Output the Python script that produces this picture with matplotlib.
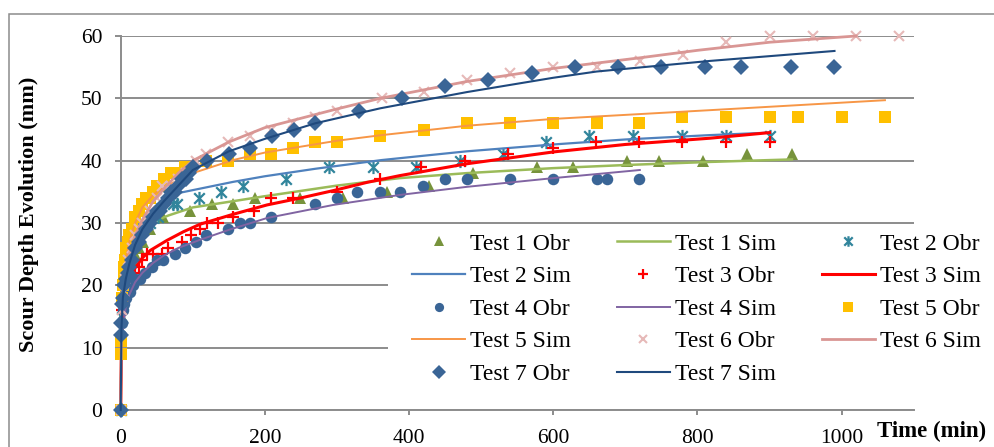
import matplotlib
matplotlib.use("Agg")
import matplotlib.pyplot as plt
from matplotlib.path import Path
from matplotlib.patches import Rectangle

plt.rcParams['font.family'] = ['Liberation Serif', 'DejaVu Serif']

# ---------------- data ----------------
t1_obs = [0, 2, 4, 6, 8, 10, 15, 20, 25, 31, 41, 59, 96, 126, 156, 186, 248, 308, 369, 428, 488, 577, 627, 702, 747, 807, 868, 931]
d1_obs = [0, 15, 18, 20, 21, 22, 24, 25, 26, 27, 29, 31, 32, 33, 33, 34, 34, 34, 35, 36, 38, 39, 39, 40, 40, 40, 41, 41]
t1_sim = [0, 1, 3, 7, 12, 20, 30, 45, 66, 100, 156, 200, 300, 387, 480, 600, 700, 817, 931]
d1_sim = [0, 11, 15, 20, 23, 26, 28.6, 30.2, 31.2, 32.5, 33.5, 34.3, 36.0, 37.2, 38.0, 38.8, 39.3, 39.8, 40.2]

t2_obs = [0, 2, 5, 10, 15, 20, 30, 40, 52, 72, 78, 109, 139, 169, 229, 289, 350, 410, 470, 530, 590, 650, 710, 779, 840, 900]
d2_obs = [0, 15, 19, 23, 25, 27, 29, 30, 31, 33, 33, 34, 35, 36, 37, 39, 39, 39, 40, 41, 43, 44, 44, 44, 44, 44]
t2_sim = [0, 1, 3, 7, 12, 20, 30, 45, 60, 80, 118, 156, 200, 270, 362, 480, 600, 700, 817, 900]
d2_sim = [0, 12, 17, 21, 24, 27, 29.5, 32.3, 33.8, 34.8, 35.7, 36.6, 37.5, 38.7, 40.1, 41.5, 42.6, 43.4, 44.1, 44.5]

t3_obs = [0, 2, 5, 10, 15, 20, 25, 29, 36, 45, 57, 66, 85, 98, 110, 120, 135, 156, 185, 209, 239, 300, 360, 417, 477, 537, 599, 659, 719, 779, 840, 900]
d3_obs = [0, 16, 18, 20, 21, 22, 23, 24, 25, 25, 25, 26, 27, 28, 29, 30, 30, 31, 32, 34, 34, 35, 37, 39, 40, 41, 42, 43, 43, 43, 43, 43]
t3_sim = [0, 1, 3, 7, 12, 20, 30, 41, 64, 87, 110, 156, 203, 249, 295, 341, 387, 480, 600, 700, 817, 900]
d3_sim = [0, 10, 15, 19, 21, 22.8, 24.4, 25.6, 27.2, 28.6, 29.8, 31.4, 32.9, 34.0, 35.2, 36.5, 37.6, 39.5, 41.4, 42.6, 43.6, 44.5]

t4_obs = [0, 1, 2, 3, 5, 8, 13, 17, 20, 27, 34, 43, 51, 59, 75, 89, 104, 119, 149, 165, 179, 209, 269, 300, 328, 360, 388, 419, 450, 480, 540, 599, 660, 675, 719]
d4_obs = [0, 12, 14, 16, 17, 18, 19, 20, 21, 21, 22, 23, 24, 24, 25, 26, 27, 28, 29, 30, 30, 31, 33, 34, 35, 35, 35, 36, 37, 37, 37, 37, 37, 37, 37]
t4_sim = [0, 1, 3, 7, 12, 20, 30, 45, 60, 80, 110, 150, 203, 295, 387, 480, 600, 720]
d4_sim = [0, 9, 13, 16.5, 18.5, 20.5, 22, 23.6, 24.8, 26, 27.3, 28.9, 30.8, 32.9, 34.5, 35.8, 37.2, 38.5]

t5_obs = [0, 0.5, 1, 2, 3, 4, 5, 6, 8, 10, 12, 15, 20, 25, 30, 35, 40, 45, 50, 55, 60, 70, 80, 89, 119, 149, 179, 209, 239, 270, 300, 360, 420, 480, 540, 600, 660, 719, 779, 840, 900, 940, 1000, 1060]
d5_obs = [0, 9, 11, 18, 20, 22, 23, 24, 26, 27, 28, 29, 31, 32, 33, 34, 34, 35, 36, 36, 37, 38, 38, 39, 40, 40, 41, 41, 42, 43, 43, 44, 45, 46, 46, 46, 46, 46, 47, 47, 47, 47, 47, 47]
t5_sim = [0, 1, 3, 7, 12, 20, 30, 45, 60, 75, 100, 156, 200, 300, 362, 480, 600, 817, 1060]
d5_sim = [0, 15, 20, 24, 27, 30, 32.5, 34.5, 35.8, 36.6, 38, 40.1, 41.3, 43.2, 44.1, 45.6, 46.7, 48.1, 49.7]

t6_obs = [0, 2, 4, 6, 10, 15, 20, 25, 30, 40, 50, 57, 70, 80, 90, 105, 119, 149, 179, 209, 239, 270, 300, 362, 420, 480, 540, 600, 660, 720, 780, 840, 900, 960, 1020, 1080]
d6_obs = [0, 16, 19, 21, 24, 26, 28, 29, 30, 32, 34, 36, 36, 37, 38, 40, 41, 43, 44, 45, 46, 47, 48, 50, 51, 53, 54, 55, 55, 56, 57, 59, 60, 60, 60, 60]
t6_sim = [0, 1, 3, 7, 12, 20, 30, 45, 60, 80, 100, 150, 200, 300, 360, 480, 600, 720, 800, 900, 1020]
d6_sim = [0, 14, 19, 22.5, 25, 28, 30.5, 33.5, 35.5, 38, 40, 43, 45.3, 48.3, 50, 52.7, 54.8, 56.5, 57.7, 59, 60]

t7_obs = [0, 0.5, 1, 2, 3, 5, 7, 10, 12, 15, 20, 25, 30, 35, 40, 45, 50, 55, 60, 65, 70, 75, 80, 85, 90, 95, 100, 120, 150, 180, 210, 240, 270, 330, 390, 450, 510, 570, 630, 690, 750, 810, 860, 930, 990]
d7_obs = [0, 12, 14, 17, 18, 20, 21, 22, 23, 24, 26, 27, 28, 29, 30, 31, 32, 32, 33, 34, 35, 35, 36, 37, 37, 38, 39, 40, 41, 42, 44, 45, 46, 48, 50, 52, 53, 54, 55, 55, 55, 55, 55, 55, 55]
t7_sim = [0, 1, 3, 7, 12, 20, 30, 45, 60, 80, 100, 150, 200, 270, 360, 480, 600, 660, 817, 990]
d7_sim = [0, 13, 18, 21, 23.5, 26.5, 29, 31.5, 33.5, 36, 38.5, 41.5, 43.5, 46, 48.4, 51, 53.3, 54.3, 56, 57.6]

labels_obs = ['Test 1 Obr', 'Test 2 Obr', 'Test 3 Obr', 'Test 4 Obr', 'Test 5 Obr', 'Test 6 Obr', 'Test 7 Obr']
labels_sim = ['Test 1 Sim', 'Test 2 Sim', 'Test 3 Sim', 'Test 4 Sim', 'Test 5 Sim', 'Test 6 Sim', 'Test 7 Sim']
x_ticks = [0, 200, 400, 600, 800, 1000]
y_ticks = [0, 10, 20, 30, 40, 50, 60]

# ---------------- styles ----------------
asterisk = Path([(-1, -1), (1, 1), (-1, 1), (1, -1), (0, -1.25), (0, 1.25)],
                [Path.MOVETO, Path.LINETO, Path.MOVETO, Path.LINETO, Path.MOVETO, Path.LINETO])

obs_style = [
    dict(marker='^', color='#77933C', ms=9, mew=0),
    dict(marker=asterisk, color='#31859C', ms=9.5, mew=1.6, mfc='none'),
    dict(marker='+', color='#FF0000', ms=8.5, mew=1.6),
    dict(marker='o', color='#3A6596', ms=8.3, mew=0),
    dict(marker='s', color='#FFC000', ms=8.5, mew=0),
    dict(marker='x', color='#E6B9B8', ms=7, mew=1.5),
    dict(marker='D', color='#3A6596', ms=8.5, mew=0),
]
sim_style = [
    dict(color='#9BBB59', lw=1.8),
    dict(color='#4F81BD', lw=1.6),
    dict(color='#FF0000', lw=2.2),
    dict(color='#8064A2', lw=1.4),
    dict(color='#F79646', lw=1.4),
    dict(color='#D99694', lw=2.0),
    dict(color='#1F497D', lw=1.5),
]

obs_t = [t1_obs, t2_obs, t3_obs, t4_obs, t5_obs, t6_obs, t7_obs]
obs_d = [d1_obs, d2_obs, d3_obs, d4_obs, d5_obs, d6_obs, d7_obs]
sim_t = [t1_sim, t2_sim, t3_sim, t4_sim, t5_sim, t6_sim, t7_sim]
sim_d = [d1_sim, d2_sim, d3_sim, d4_sim, d5_sim, d6_sim, d7_sim]

W, H = 995, 447
fig = plt.figure(figsize=(W / 100, H / 100), dpi=100)
fig.patches.append(Rectangle((9 / W, -0.1), 1.2, 1 - 14 / H + 0.1, transform=fig.transFigure,
                             fill=False, edgecolor='#8c8c8c', lw=1.1, zorder=0))

x0, x1, y0, y1 = 120.7, 913.8, 410, 36
ax = fig.add_axes([x0 / W, 1 - y0 / H, (x1 - x0) / W, (y0 - y1) / H])
ax.set_xlim(0, 1100)
ax.set_ylim(0, 60)
ax.set_xticks(x_ticks)
ax.set_yticks(y_ticks)
gray = '#8c8c8c'
ax.grid(axis='y', color=gray, lw=1.4, zorder=0)
ax.set_axisbelow(True)
for s in ['top', 'right']:
    ax.spines[s].set_visible(False)
for s in ['left', 'bottom']:
    ax.spines[s].set_color(gray)
    ax.spines[s].set_linewidth(1.4)
ax.tick_params(axis='x', direction='out', length=3.6, width=1.4, color=gray, pad=10, labelsize=15.5)
ax.tick_params(axis='y', direction='out', length=4.3, width=1.4, color=gray, pad=9, labelsize=15.5)

handles = {}
for i in range(7):
    st = obs_style[i]
    h_o, = ax.plot(obs_t[i], obs_d[i], ls='none', marker=st['marker'], color=st['color'],
                   ms=st['ms'], mew=st['mew'], mfc=st.get('mfc', st['color']),
                   clip_on=False, zorder=3 + 2 * i, label=labels_obs[i])
    h_s, = ax.plot(sim_t[i], sim_d[i], color=sim_style[i]['color'], lw=sim_style[i]['lw'],
                   clip_on=False, zorder=4 + 2 * i, label=labels_sim[i])
    handles[labels_obs[i]] = h_o
    handles[labels_sim[i]] = h_s

# white legend area (hides the gridlines behind the legend)
ax.add_patch(Rectangle((388 / W, 1 - 392 / H), (995 - 388) / W, (392 - 229) / H,
                       transform=fig.transFigure, facecolor='white', edgecolor='none',
                       clip_on=False, zorder=25))

order = ['Test 1 Obr', 'Test 2 Sim', 'Test 4 Obr', 'Test 5 Sim', 'Test 7 Obr',
         'Test 1 Sim', 'Test 3 Obr', 'Test 4 Sim', 'Test 6 Obr', 'Test 7 Sim',
         'Test 2 Obr', 'Test 3 Sim', 'Test 5 Obr', 'Test 6 Sim']
leg = ax.legend([handles[k] for k in order], order, ncol=3, loc='upper left',
                bbox_to_anchor=(405 / W, 1 - 226 / H), bbox_transform=fig.transFigure,
                frameon=False, fontsize=17, handlelength=2.25, handletextpad=0.2,
                columnspacing=1.95, labelspacing=0.47, borderpad=0.3, borderaxespad=0,
                markerscale=0.8)
leg.set_zorder(30)

fig.text(29 / W, 1 - 214 / H, 'Scour Depth Evolution (mm)', rotation=90, ha='center', va='center',
         fontsize=16, fontweight='bold')
fig.text(877 / W, 1 - 431 / H, 'Time (min)', ha='left', va='center', fontsize=16.5, fontweight='bold')

fig.savefig('out.png', dpi=100)
